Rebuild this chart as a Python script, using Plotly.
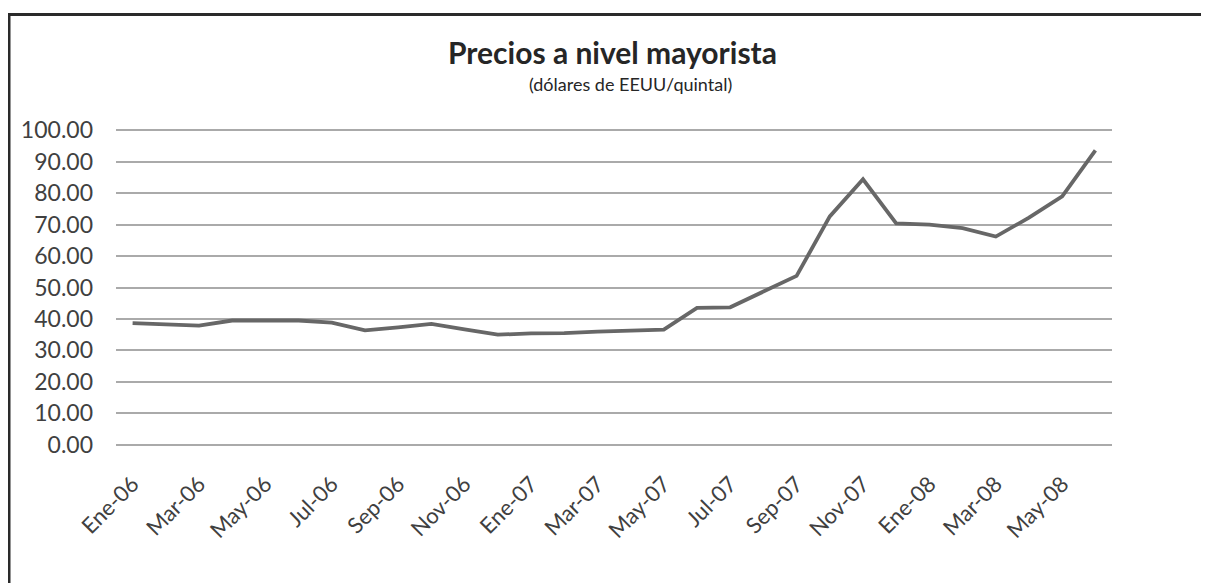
import plotly.graph_objects as go

# ---- data ----
months = [
    "Ene-06", "Feb-06", "Mar-06", "Abr-06", "May-06", "Jun-06",
    "Jul-06", "Ago-06", "Sep-06", "Oct-06", "Nov-06", "Dic-06",
    "Ene-07", "Feb-07", "Mar-07", "Abr-07", "May-07", "Jun-07",
    "Jul-07", "Ago-07", "Sep-07", "Oct-07", "Nov-07", "Dic-07",
    "Ene-08", "Feb-08", "Mar-08", "Abr-08", "May-08", "Jun-08",
]
prices = [
    38.7, 38.3, 37.9, 39.5, 39.5, 39.5,
    38.8, 36.4, 37.3, 38.4, 36.7, 35.0,
    35.4, 35.5, 36.0, 36.4, 36.6, 43.5,
    43.7, 48.7, 53.7, 72.6, 84.4, 70.4,
    70.0, 68.9, 66.2, 72.2, 79.0, 93.6,
]
shown_labels = months[::2]
y_ticks = [0, 10, 20, 30, 40, 50, 60, 70, 80, 90, 100]

title_text = "Precios a nivel mayorista"
subtitle_text = "(dólares de EEUU/quintal)"

FONT = "Lato"

fig = go.Figure()
fig.add_trace(go.Scatter(
    x=months, y=prices, mode="lines",
    line=dict(color="#676767", width=3.8),
    showlegend=False, hoverinfo="x+y",
))

# the page body has an 8px margin, so work in reference pixels minus 8
OFF = 8
W, H = 1209 - OFF, 583 - OFF
PAD = 0.4   # small value padding so the 0 and 100 gridlines are drawn
unit = 315 / 100.0
L, R = 116 - OFF, 97
T = 130 - OFF - PAD * unit
B = 138 - PAD * unit
pw, ph = W - L - R, H - T - B

def px_x(x):
    return (x - OFF - L) / pw

def px_y(y):
    return (H - B - (y - OFF)) / ph

fig.update_layout(
    width=W, height=H,
    margin=dict(l=L, r=R, t=T, b=B),
    paper_bgcolor="white", plot_bgcolor="white",
    font=dict(family=FONT, color="#404040"),
    xaxis=dict(
        type="category",
        categoryorder="array", categoryarray=months,
        range=[-0.5, len(months) - 0.5],
        tickmode="array", tickvals=shown_labels, ticktext=shown_labels,
        tickangle=-45, tickfont=dict(size=22, color="#404040", family=FONT),
        showgrid=False, zeroline=False, showline=False, ticks="",
        ticklabelstandoff=20,
    ),
    yaxis=dict(
        range=[-PAD, 100 + PAD], tickmode="array", tickvals=y_ticks,
        ticktext=[f"{v:.2f}" for v in y_ticks],
        tickfont=dict(size=23, color="#404040", family=FONT),
        showgrid=True, gridcolor="#aaaaaa", gridwidth=1.5,
        zeroline=False, showline=False, ticks="", ticklabelstandoff=22,
    ),
    annotations=[
        dict(text="<b>" + title_text + "</b>", x=px_x(612), y=px_y(52),
             xref="paper", yref="paper", showarrow=False,
             font=dict(size=30, color="#262626", family=FONT),
             xanchor="center", yanchor="middle"),
        dict(text=subtitle_text, x=px_x(630), y=px_y(84),
             xref="paper", yref="paper", showarrow=False,
             font=dict(size=18, color="#262626", family=FONT),
             xanchor="center", yanchor="middle"),
    ],
    shapes=[
        dict(type="line", xref="paper", yref="paper",
             x0=px_x(8), x1=px_x(1230), y0=px_y(14), y1=px_y(14),
             line=dict(color="#2a2a2a", width=3)),
        dict(type="line", xref="paper", yref="paper",
             x0=px_x(9), x1=px_x(9), y0=px_y(13), y1=px_y(600),
             line=dict(color="#2a2a2a", width=3)),
    ],
)

fig.write_html("out.html")
